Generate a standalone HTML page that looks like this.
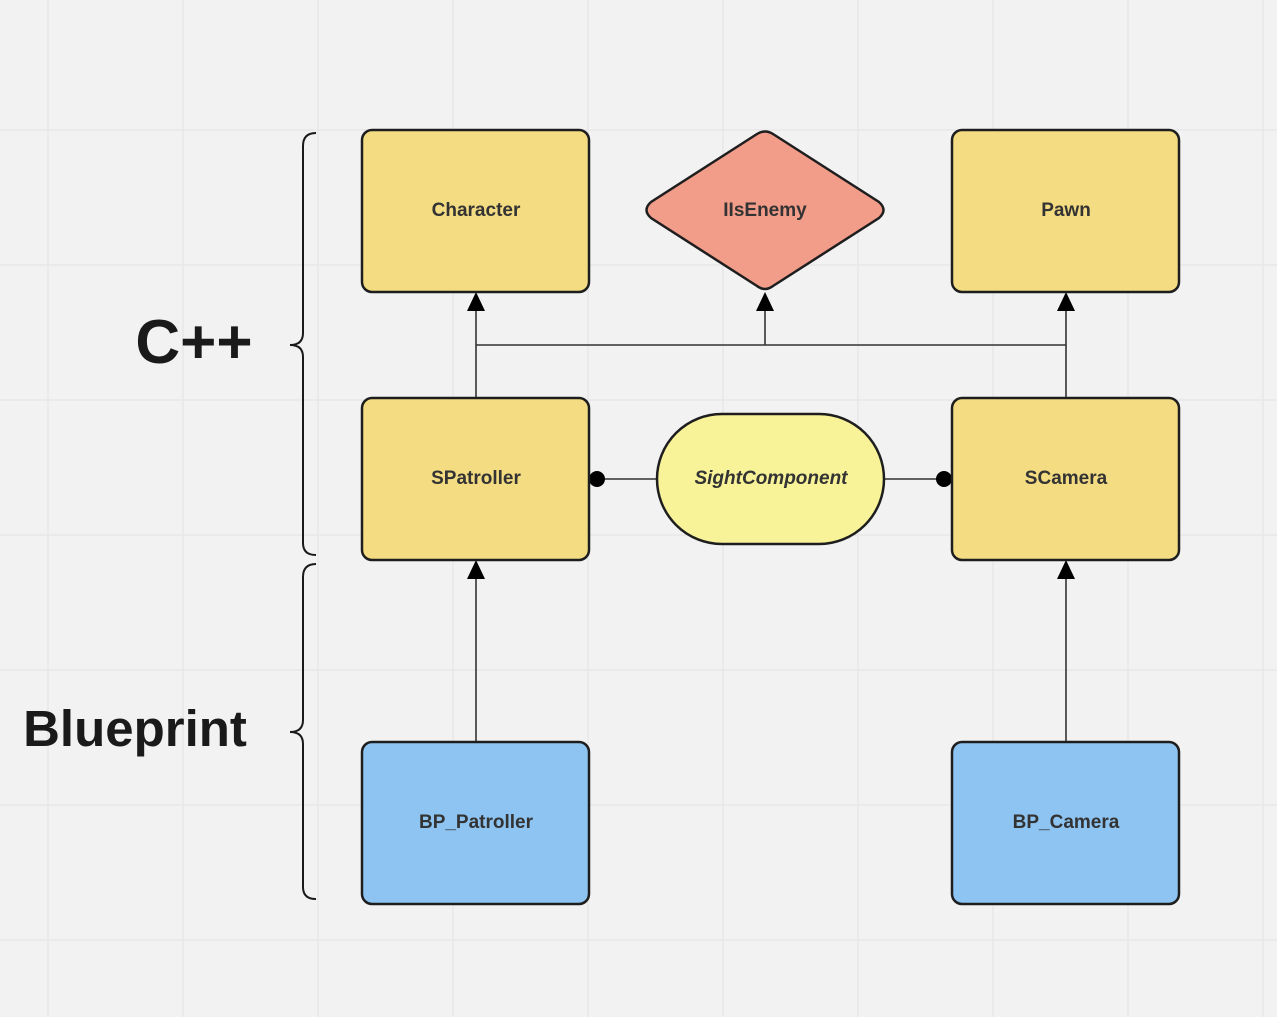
<!DOCTYPE html>
<html><head><meta charset="utf-8"><style>
html,body{margin:0;padding:0;background:#f2f2f2;}
svg{display:block;}
text{font-family:"Liberation Sans","DejaVu Sans",sans-serif;font-weight:bold;}
</style></head><body>
<svg width="1277" height="1017" viewBox="0 0 1277 1017" xmlns="http://www.w3.org/2000/svg">
<rect width="1277" height="1017" fill="#f2f2f2"/>
<g stroke="#e6e6e6" stroke-width="1.2">
<line x1="48" y1="0" x2="48" y2="1017"/><line x1="183" y1="0" x2="183" y2="1017"/>
<line x1="318" y1="0" x2="318" y2="1017"/><line x1="453" y1="0" x2="453" y2="1017"/>
<line x1="588" y1="0" x2="588" y2="1017"/><line x1="723" y1="0" x2="723" y2="1017"/>
<line x1="858" y1="0" x2="858" y2="1017"/><line x1="993" y1="0" x2="993" y2="1017"/>
<line x1="1128" y1="0" x2="1128" y2="1017"/><line x1="1263" y1="0" x2="1263" y2="1017"/>
<line x1="0" y1="130" x2="1277" y2="130"/><line x1="0" y1="265" x2="1277" y2="265"/>
<line x1="0" y1="400" x2="1277" y2="400"/><line x1="0" y1="535" x2="1277" y2="535"/>
<line x1="0" y1="670" x2="1277" y2="670"/><line x1="0" y1="805" x2="1277" y2="805"/>
<line x1="0" y1="940" x2="1277" y2="940"/>
</g>
<g fill="none" stroke="#1a1a1a" stroke-width="2">
<path d="M316,133 Q303,133 303,146 L303,333 Q303,345 290,345 Q303,345 303,357 L303,543 Q303,555 316,555"/>
<path d="M316,564 Q303,564 303,577 L303,720 Q303,732 290,732 Q303,732 303,744 L303,887 Q303,899 316,899"/>
</g>
<text x="194" y="363" font-size="62" text-anchor="middle" fill="#1a1a1a">C++</text>
<text x="135" y="746" font-size="51" text-anchor="middle" fill="#1a1a1a">Blueprint</text>
<g stroke="#333" stroke-width="1.6" fill="none">
<line x1="476" y1="310" x2="476" y2="398"/>
<line x1="476" y1="345" x2="1066" y2="345"/>
<line x1="765" y1="310" x2="765" y2="345"/>
<line x1="1066" y1="310" x2="1066" y2="398"/>
<line x1="476" y1="578" x2="476" y2="742"/>
<line x1="1066" y1="578" x2="1066" y2="742"/>
<line x1="598" y1="479" x2="657" y2="479"/>
<line x1="884" y1="479" x2="944" y2="479"/>
</g>
<g fill="#000">
<polygon points="476,292 467,311 485,311"/>
<polygon points="765,292 756,311 774,311"/>
<polygon points="1066,292 1057,311 1075,311"/>
<polygon points="476,560 467,579 485,579"/>
<polygon points="1066,560 1057,579 1075,579"/>
<circle cx="597" cy="479" r="8"/>
<circle cx="944" cy="479" r="8"/>
</g>
<g stroke="#1e1e1e" stroke-width="2.5">
<rect x="362" y="130" width="227" height="162" rx="10" fill="#f4dc82"/>
<rect x="952" y="130" width="227" height="162" rx="10" fill="#f4dc82"/>
<rect x="362" y="398" width="227" height="162" rx="10" fill="#f4dc82"/>
<rect x="952" y="398" width="227" height="162" rx="10" fill="#f4dc82"/>
<rect x="362" y="742" width="227" height="162" rx="10" fill="#8ec4f2"/>
<rect x="952" y="742" width="227" height="162" rx="10" fill="#8ec4f2"/>
<rect x="657" y="414" width="227" height="130" rx="65" fill="#f8f298"/>
<path d="M757,134 Q765,129 773,134 L879,202 Q888,210 879,218 L773,286 Q765,292 757,286 L651,218 Q642,210 651,202 Z" fill="#f29c8a"/>
</g>
<g font-size="19" fill="#333" text-anchor="middle">
<text x="476" y="216">Character</text>
<text x="765" y="216">IIsEnemy</text>
<text x="1066" y="216">Pawn</text>
<text x="476" y="484">SPatroller</text>
<text x="1066" y="484">SCamera</text>
<text x="771" y="484" font-style="italic">SightComponent</text>
<text x="476" y="828">BP_Patroller</text>
<text x="1066" y="828">BP_Camera</text>
</g>
</svg>
</body></html>
